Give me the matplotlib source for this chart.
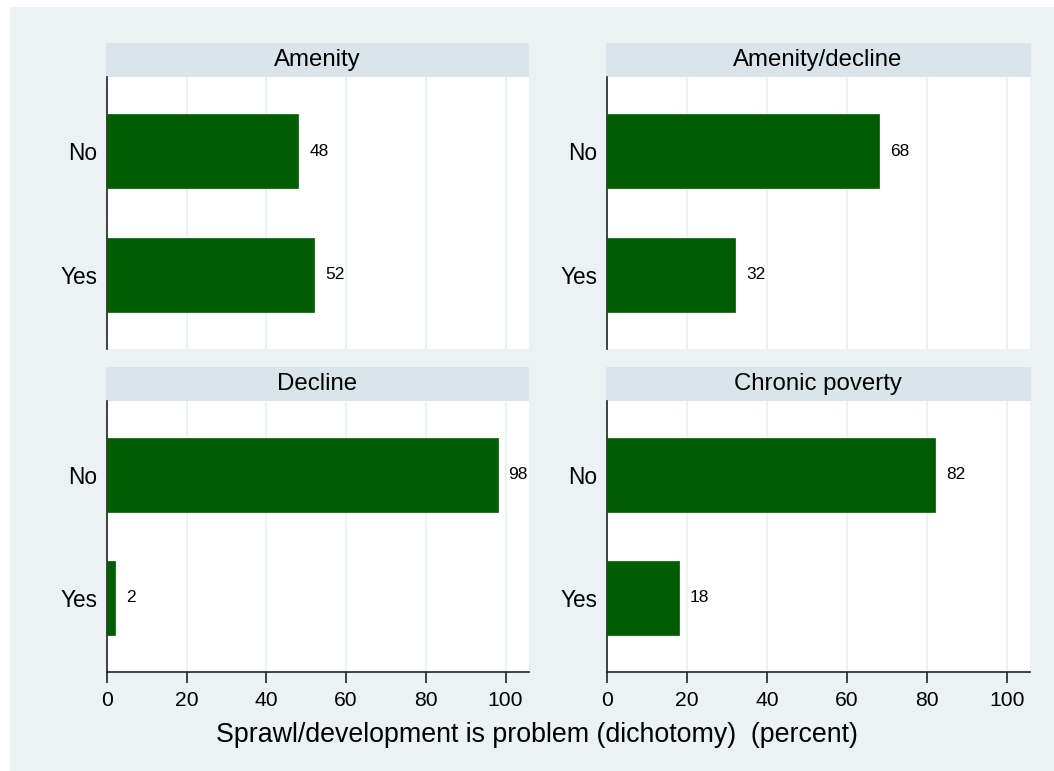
import matplotlib
matplotlib.use("Agg")
import matplotlib.pyplot as plt
from matplotlib.patches import Rectangle

plt.rcParams['font.family'] = ['Liberation Sans', 'DejaVu Sans']

panels = ["Amenity", "Amenity/decline", "Decline", "Chronic poverty"]
categories = ["No", "Yes"]
values = [
    [48, 52],
    [68, 32],
    [98, 2],
    [82, 18],
]
xticks = [0, 20, 40, 60, 80, 100]
xlabel = "Sprawl/development is problem (dichotomy)  (percent)"

BG = "#EAF2F3"
STRIP = "#D9E5EB"
BAR = "#005C00"
W, H = 1054, 771

fig = plt.figure(figsize=(W / 100, H / 100), dpi=100)
fig.patch.set_facecolor("white")
fig.patches.append(Rectangle((10 / W, 0), 1 - 10 / W, 1 - 7 / H,
                             transform=fig.transFigure, facecolor=BG,
                             edgecolor="none", zorder=-10))

# pixel boxes (left, top, right, bottom)
boxes = [
    (107, 77, 528.7, 349.3),
    (607, 77, 1030, 349.3),
    (107, 400.7, 528.7, 672),
    (607, 400.7, 1030, 672),
]
strip_h = 34

for i, (name, vals) in enumerate(zip(panels, values)):
    l, t, r, b = boxes[i]
    ax = fig.add_axes([l / W, 1 - b / H, (r - l) / W, (b - t) / H])
    ax.set_facecolor("white")
    ypos = list(range(len(categories)))
    ax.barh(ypos, vals, height=0.6, color=BAR, edgecolor=BAR, linewidth=0.5, zorder=3)
    for y, v in zip(ypos, vals):
        ax.annotate(f"{v}", (v, y), xytext=(11, 0), textcoords="offset pixels",
                    ha="left", va="center", fontsize=12.5, color="black")
    ax.set_xlim(0, 105.8)
    ax.set_ylim(1.605, -0.602)
    ax.set_yticks(ypos)
    ax.set_yticklabels(categories, fontsize=16.3)
    ax.tick_params(axis="y", length=0, pad=7)
    ax.set_xticks(xticks)
    for xv in xticks[1:]:
        ax.axvline(xv, color=BG, linewidth=1.5, zorder=1)
    for s in ["top", "right"]:
        ax.spines[s].set_visible(False)
    ax.spines["left"].set_color("#222222")
    ax.spines["left"].set_linewidth(1.2)
    if i >= 2:
        ax.spines["bottom"].set_color("#222222")
        ax.spines["bottom"].set_linewidth(1.2)
        ax.tick_params(axis="x", length=8, width=1.2, color="#222222",
                       labelsize=15.2, pad=6)
    else:
        ax.spines["bottom"].set_visible(False)
        ax.tick_params(axis="x", length=0, labelbottom=False)
    # strip
    sl = l - 1
    fig.patches.append(Rectangle((sl / W, 1 - t / H), (r - sl + 0.5) / W, strip_h / H,
                                 transform=fig.transFigure, facecolor=STRIP,
                                 edgecolor="none", zorder=-5))
    fig.text(((sl + r) / 2) / W, 1 - (t - strip_h / 2) / H, name,
             ha="center", va="center", fontsize=17.3, color="black")

fig.text(537 / W, 1 - 735 / H, xlabel, ha="center", va="center",
         fontsize=19.3, color="black")

fig.savefig("out.png", dpi=100, facecolor="white")
